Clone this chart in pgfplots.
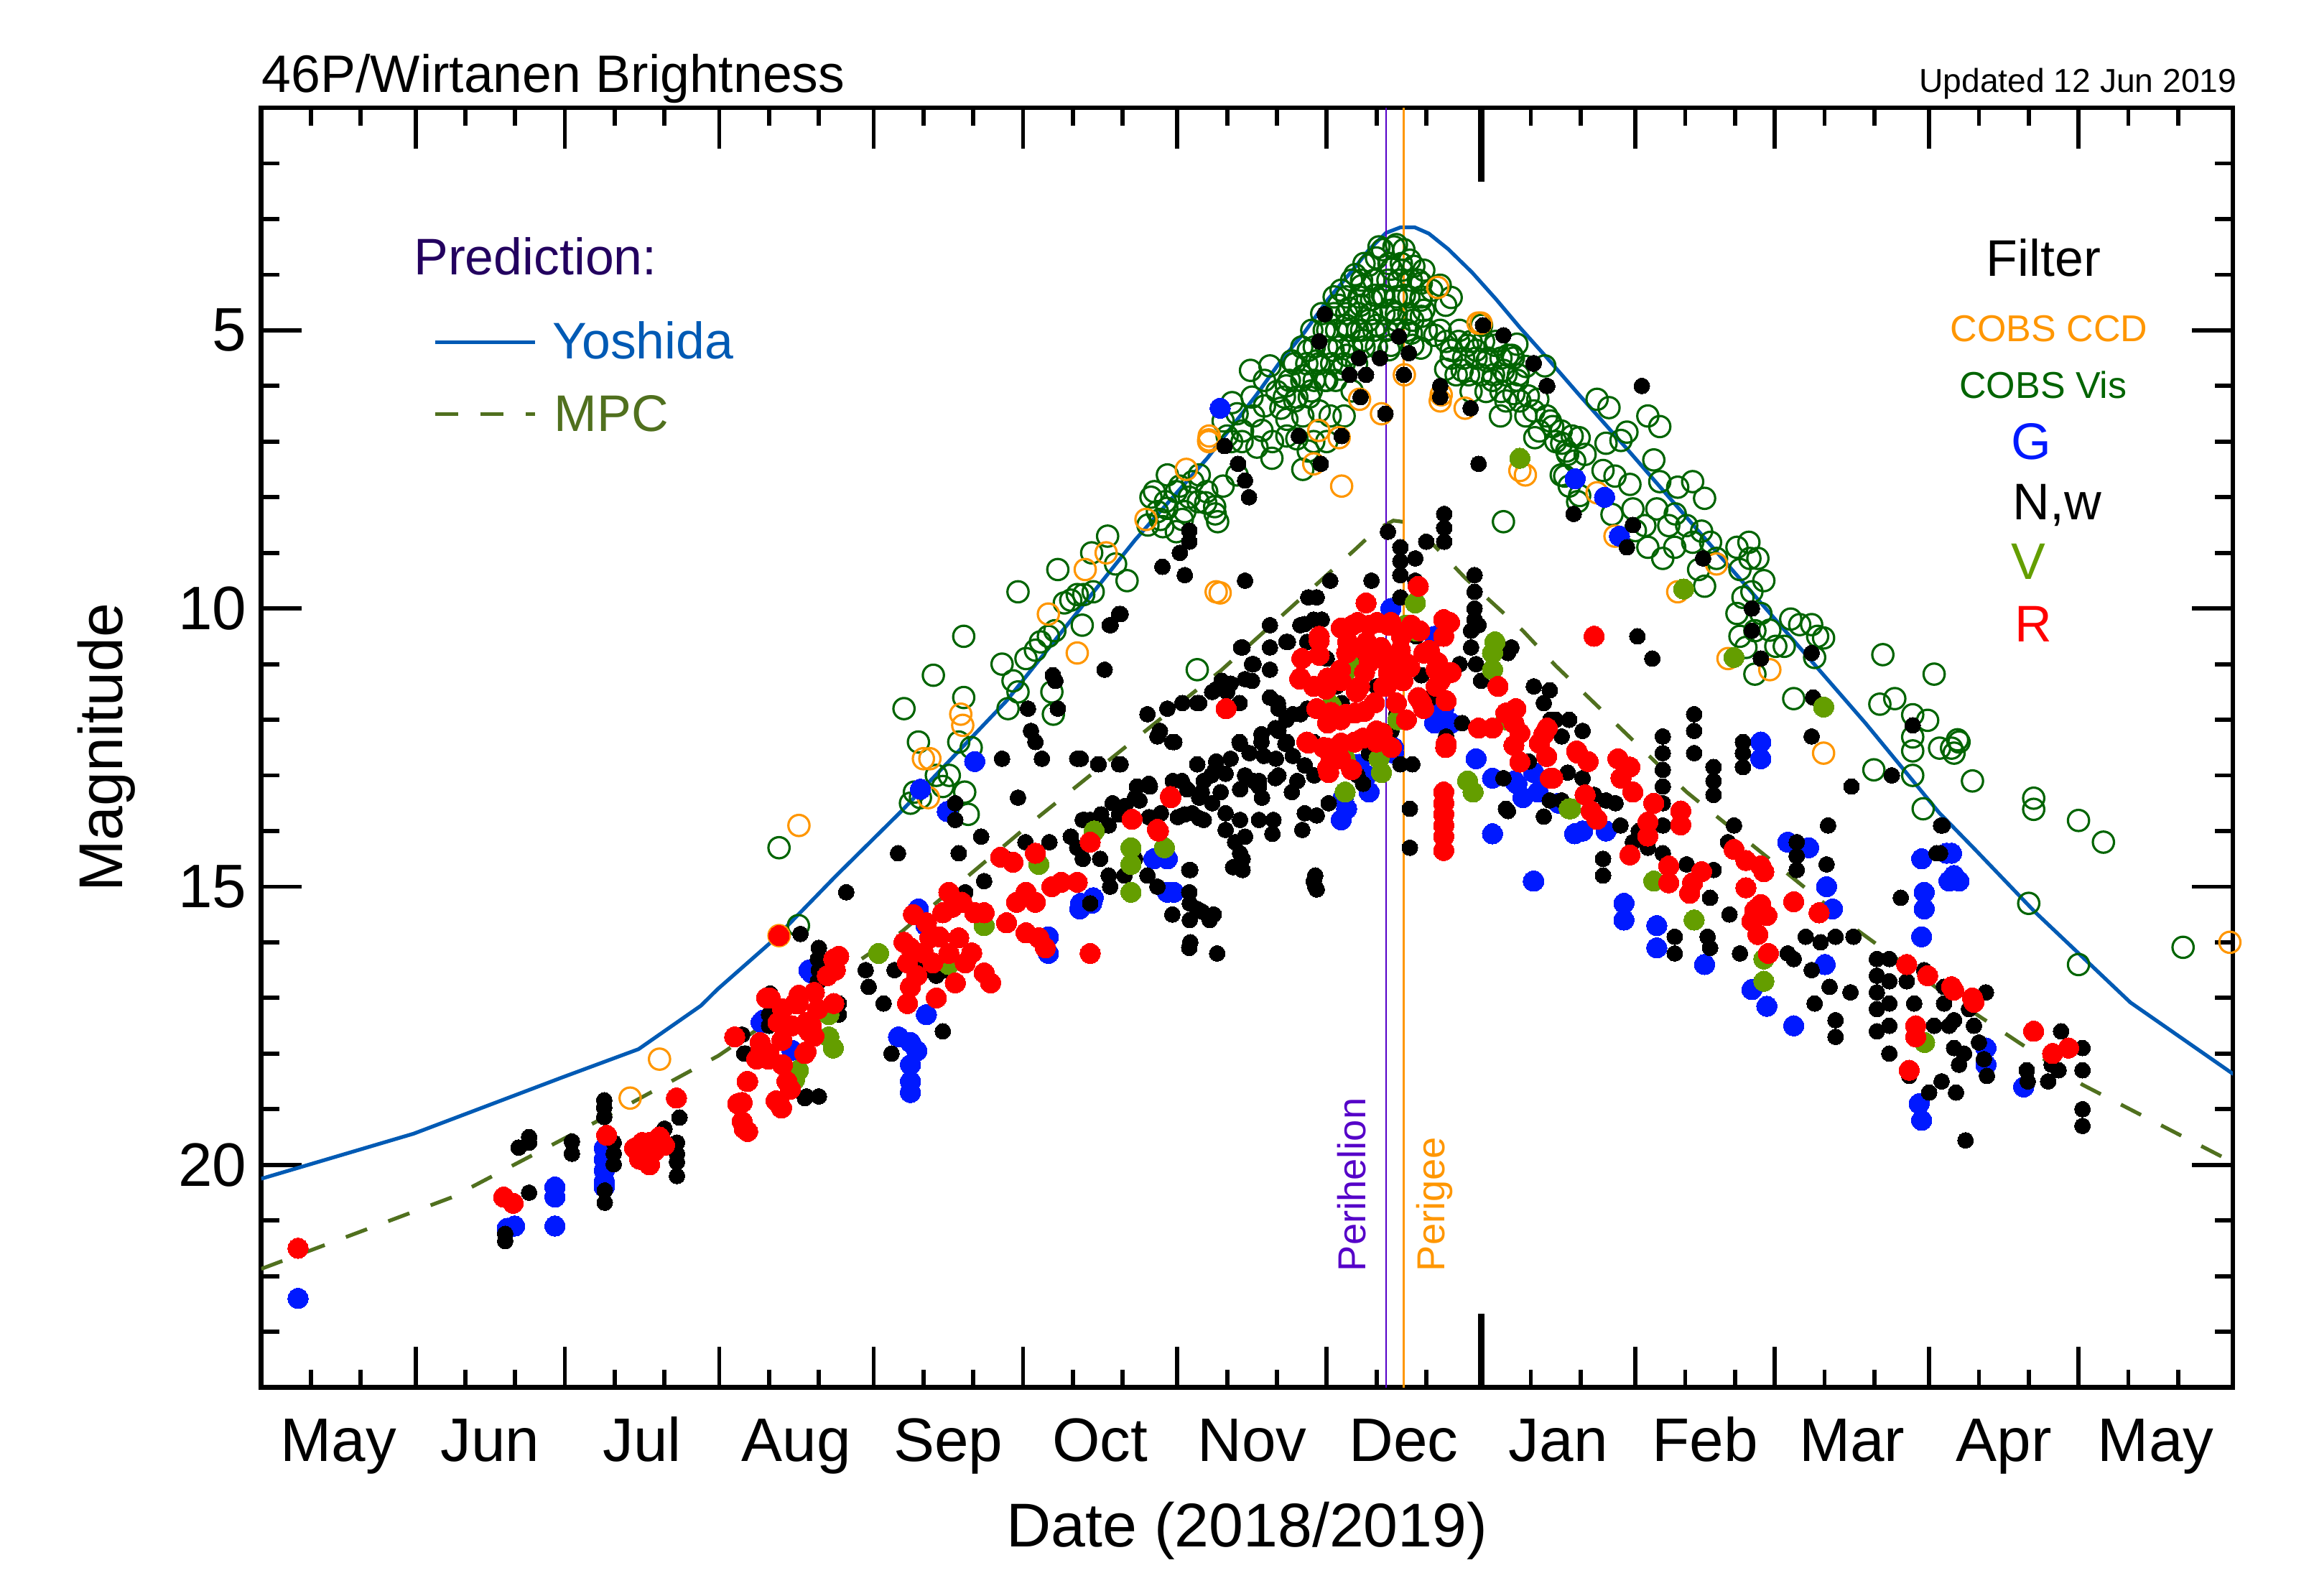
\documentclass[border=0pt]{standalone}
\usepackage{fontspec}
\setmainfont{Liberation Sans}
\usepackage{pgfplots}
\pgfplotsset{compat=1.18}
\definecolor{cobsvis}{RGB}{0,100,0}
\definecolor{cobsccd}{RGB}{255,150,0}
\definecolor{gblue}{RGB}{0,25,255}
\definecolor{vgreen}{RGB}{100,158,0}
\definecolor{rred}{RGB}{255,0,0}
\definecolor{yoshida}{RGB}{0,90,180}
\definecolor{mpc}{RGB}{80,112,30}
\definecolor{predtext}{RGB}{35,0,95}
\definecolor{perih}{RGB}{85,0,200}
\definecolor{perig}{RGB}{255,150,0}
\begin{document}
\begin{tikzpicture}
\path[use as bounding box] (-2.2125cm,-1.7625cm) rectangle (17.3875cm,11.75cm);
\begin{axis}[
  at={(0,0)}, anchor=south west,
  scale only axis, width=16.7cm, height=10.8375cm,
  xmin=0, xmax=396, ymin=1, ymax=24, y dir=reverse,
  axis line style={line width=1.15pt},
  tick style={black, line width=1pt},
  major tick length=9.8pt, minor tick length=4.3pt,
  xtick={0,31,61,92,123,153,184,214,245,276,304,335,365,396},
  xticklabels={},
  minor xtick={10,20,41,51,71,81,102,112,133,143,163,173,194,204,224,234,255,265,286,296,314,324,345,355,375,385},
  extra x ticks={15.5,46,76.5,107.5,138,168.5,199,229.5,260.5,290,319.5,350,380.5},
  extra x tick labels={May,Jun,Jul,Aug,Sep,Oct,Nov,Dec,Jan,Feb,Mar,Apr,May},
  extra x tick style={major tick length=0pt, tick style={draw=none}},
  xticklabel style={anchor=base, yshift=-17.8pt},
  ytick={5,10,15,20},
  minor ytick={2,3,4,6,7,8,9,11,12,13,14,16,17,18,19,21,22,23},
  tick label style={font=\fontsize{14.8}{17}\selectfont},
  /pgf/number format/assume math mode=true,
  xlabel={Date (2018/2019)}, ylabel={Magnitude},
  every axis x label/.style={at={(axis description cs:0.5,-0.1246)}, anchor=base, font=\fontsize{14.9}{17}\selectfont},
  every axis y label/.style={at={(axis description cs:-0.0786,0.5)}, rotate=90, anchor=center, font=\fontsize{14.9}{17}\selectfont},
  clip=true,
]
% ---- predictions
\addplot[yoshida, line width=0.9pt, no marks] table[row sep=\\]{x y\\
0 20.25\\ 30.6 19.44\\ 60.4 18.43\\ 75.8 17.92\\ 88.3 17.14\\ 91.7 16.84\\ 103 15.95\\ 115.4 14.81\\ 128.5 13.65\\ 149.7 11.66\\ 175.5 8.77\\ 190 7.3\\ 199.9 6.16\\ 204.7 5.56\\ 209.5 5.04\\ 214.3 4.44\\ 219.2 3.92\\ 222.5 3.55\\ 225.9 3.25\\ 228.8 3.15\\ 231.7 3.15\\ 234.5 3.26\\ 238.4 3.54\\ 243.2 3.96\\ 248 4.44\\ 252.8 4.95\\ 258 5.47\\ 264.9 6.18\\ 274.3 7.13\\ 298.3 9.60\\ 322.2 12.06\\ 337 13.67\\ 344.2 14.33\\ 356.2 15.45\\ 375.4 17.08\\ 396.1 18.37\\};
\addplot[mpc, line width=0.9pt, no marks, dash pattern=on 5.45pt off 5.45pt] table[row sep=\\]{x y\\
0 21.87\\ 38.4 20.58\\ 70.8 19.06\\ 91.8 18.04\\ 128.5 15.82\\ 156.2 13.74\\ 178.3 12.15\\ 192.7 11.12\\ 200.4 10.5\\ 219.7 8.94\\ 224 8.58\\ 227.4 8.42\\ 230 8.45\\ 234 8.72\\ 241.8 9.45\\ 253.4 10.4\\ 260 11.03\\ 286.3 13.30\\ 321 15.81\\ 337 16.85\\ 365.8 18.56\\ 394.6 19.89\\ 396 19.95\\};
% ---- COBS Vis
\addplot[only marks, cobsvis, mark=o, mark size=2.55pt, mark options={fill=none, line width=0.55pt}] table[row sep=\\]{x y\\
104 14.3\\ 107.9 15.7\\ 129.1 11.8\\ 135 11.2\\ 141.1 10.5\\ 132 12.4\\ 141.1 11.6\\ 140.1 12.4\\ 130.4 13.5\\ 132.4 13.4\\ 131.2 13.3\\ 135.6 13.0\\ 138.2 13.0\\ 136.9 13.2\\ 142.6 12.5\\ 141.3 13.3\\ 142 13.7\\ 148.8 11.0\\ 151 11.3\\ 152 11.5\\ 150 11.8\\ 153.6 10.9\\ 155.5 10.75\\ 156.5 10.6\\ 158.1 10.5\\ 159.4 10.4\\ 158.8 11.5\\ 159.1 11.9\\ 160 9.3\\ 152 9.7\\ 161.3 9.9\\ 162.6 9.85\\ 163.9 9.75\\ 165.2 9.75\\ 167.1 9.7\\ 164.9 10.3\\ 166.8 9.0\\ 170 8.7\\ 171.6 9.2\\ 173.9 9.5\\ 178.7 8.0\\ 182 7.6\\ 178.1 8.5\\ 184.5 7.8\\ 186.4 8.0\\ 188.4 7.6\\ 189.7 8.1\\ 191.6 8.3\\ 181.9 8.2\\ 185 8.4\\ 180.6 8.4\\ 188 11.1\\
179.4 7.9\\ 181.6 8.08\\ 183.8 7.9\\ 185.5 8.26\\ 187.1 7.72\\ 188.2 8.08\\ 189.9 7.9\\ 191.5 8.17\\ 192.1 8.44\\ 181.1 8.53\\ 183.8 8.62\\ 180 8.26\\ 193.2 7.8\\ 196 7.6\\ 194.9 7.0\\ 193.2 6.63\\ 197.1 6.81\\ 199.3 6.54\\ 198.7 5.72\\ 202.6 5.64\\ 203.1 7.0\\ 201.5 6.36\\ 204.8 6.4\\ 205.9 6.0\\ 207.6 6.27\\ 207 5.55\\ 209.2 5.82\\ 209.2 6.54\\ 210.9 6.09\\ 211.4 7.0\\ 212 5.55\\ 212.5 6.45\\ 213.6 5.9\\ 210.3 5.36\\ 214.2 5.0\\ 215.3 5.36\\ 216.4 4.55\\ 216.9 4.28\\ 218 4.91\\ 218 5.45\\ 219.1 6.09\\ 217.5 6.54\\ 219.7 4.0\\ 220.8 4.55\\ 221.3 5.18\\ 222.5 3.83\\ 223.6 4.37\\ 224.1 4.91\\ 225.2 3.55\\ 226.3 4.1\\ 226.9 4.64\\ 226.9 5.27\\ 228 3.46\\ 229.1 3.92\\ 229.6 4.37\\ 230.7 3.74\\ 231.3 4.82\\ 232.4 4.1\\ 232.9 4.46\\ 233.5 3.92\\ 234 5.0\\ 235.1 4.28\\ 236.8 4.19\\ 239 4.41\\ 232.9 5.32\\ 230.2 5.0\\ 222.5 4.82\\ 220.2 5.0\\ 215.8 5.9\\ 214.7 6.54\\ 216.9 5.7\\ 225.2 4.37\\ 228 4.82\\ 233.5 4.64\\ 231.3 5.27\\ 236.8 5.0\\ 239 5.36\\ 237.9 5.7\\ 235.7 5.09\\ 210.3 7.17\\ 209.2 7.5\\ 214 7.0\\ 206 6.9\\ 224 3.7\\ 227 3.9\\ 221 4.2\\ 218.5 4.6\\
224.5 3.5\\ 227.5 3.5\\ 229.5 3.55\\ 221.5 3.8\\ 226.5 3.8\\ 229 3.8\\ 231.5 3.85\\ 219 4.1\\ 221 4.1\\ 223.5 4.1\\ 228.5 4.1\\ 231 4.1\\ 233 4.15\\ 215.5 4.4\\ 218 4.4\\ 220.5 4.4\\ 223 4.45\\ 225.5 4.4\\ 228 4.4\\ 230.5 4.4\\ 233 4.4\\ 213 4.7\\ 215.5 4.7\\ 218 4.7\\ 220.5 4.7\\ 223 4.7\\ 225.5 4.7\\ 228 4.7\\ 230.5 4.7\\ 233 4.75\\ 211 5.0\\ 213.5 5.0\\ 216 5.0\\ 218.5 5.0\\ 221 5.0\\ 223.5 5.0\\ 226 5.0\\ 228.5 5.0\\ 231 5.05\\ 209 5.3\\ 211.5 5.3\\ 214 5.3\\ 216.5 5.3\\ 219 5.3\\ 221.5 5.3\\ 224 5.3\\ 226.5 5.35\\ 207.5 5.6\\ 210 5.6\\ 212.5 5.6\\ 215 5.6\\ 217.5 5.6\\ 220 5.6\\ 206.5 5.9\\ 209 5.9\\ 211.5 5.9\\ 214 5.9\\ 205.5 6.2\\ 208 6.2\\ 210.5 6.2\\ 196 6.5\\ 199 6.2\\ 201 6.8\\ 204 6.1\\ 206 6.6\\ 208 6.95\\ 203 7.3\\ 200 7.1\\ 197 7.0\\ 194 6.9\\ 195 6.3\\ 201.5 5.9\\
240.7 5.0\\ 242.3 5.27\\ 241.2 5.72\\ 244 5.36\\ 245.1 4.91\\ 246.2 5.55\\ 247.8 5.27\\ 247.3 5.9\\ 249.5 5.72\\ 251.2 5.45\\ 252.3 5.9\\ 250 6.27\\ 248.9 6.54\\ 252.8 6.27\\ 254.5 6.18\\ 255.6 6.45\\ 257.8 5.64\\ 256.7 6.81\\ 258.9 6.63\\ 260 7.0\\ 261.1 6.81\\ 262.2 7.17\\ 263.3 6.9\\ 261.1 7.6\\ 262.7 7.8\\ 263.8 7.35\\ 264.4 8.08\\ 237.9 4.55\\ 249.5 8.44\\ 238 5.2\\ 240.5 5.2\\ 243 5.2\\ 245.5 5.2\\ 248 5.2\\ 239 5.5\\ 241.5 5.5\\ 244 5.5\\ 246.5 5.5\\ 249 5.5\\ 251.5 5.5\\ 240 5.8\\ 242.5 5.8\\ 245 5.8\\ 247.5 5.8\\ 250 5.8\\ 252.5 5.8\\ 243 6.1\\ 246 6.1\\ 249 6.1\\
250.4 5.45\\ 252.2 5.25\\ 254 5.65\\ 251.6 6.14\\ 254 6.54\\ 256.4 6.24\\ 258.2 6.54\\ 255.8 6.93\\ 259.4 6.73\\ 261.2 7.03\\ 262.4 7.23\\ 264.7 6.93\\ 265.9 7.23\\ 261.8 7.62\\ 264.8 7.97\\ 268.3 6.24\\ 270.7 6.39\\ 274.3 6.83\\ 278.5 6.54\\ 280.9 6.73\\ 270.1 7.03\\ 273.1 6.98\\ 269.5 7.52\\ 271.9 7.62\\ 274.9 7.77\\ 271.3 8.31\\ 279.7 7.33\\ 280.9 7.72\\ 284.5 7.82\\ 287.5 7.72\\ 289.9 8.02\\ 275.5 8.21\\ 277.9 8.51\\ 280.3 8.21\\ 282.7 8.51\\ 278.5 8.9\\ 281.5 9.1\\ 283.9 8.9\\ 286.3 8.51\\ 287.5 8.81\\ 289.3 8.61\\ 291.1 8.81\\ 288.7 9.3\\ 289.9 9.6\\ 292.3 9.1\\ 296.4 8.9\\ 298.8 8.81\\ 300.6 9.1\\ 297 9.3\\ 301.8 9.5\\ 297.6 9.8\\ 299.4 9.7\\ 296.4 10.09\\ 301.2 10.09\\ 297 10.5\\ 298.2 10.7\\ 300 11.18\\ 303 10.39\\ 304.2 10.68\\ 305.9 10.68\\ 307.2 10.19\\ 309 10.29\\ 311.4 10.29\\ 312.6 10.5\\ 313.8 10.53\\ 312 10.88\\ 307.8 11.62\\ 325.7 10.83\\ 336 11.18\\ 325.1 11.72\\ 328.1 11.62\\ 331.7 11.91\\ 334.7 12.01\\ 331.7 12.31\\ 331.7 12.56\\ 337.1 12.51\\ 339.5 12.51\\ 340.7 12.36\\ 323.9 12.9\\ 331.7 13.0\\ 333.8 13.6\\ 343.7 13.1\\ 340 12.6\\ 341 12.4\\ 276 8.6\\ 284 8.3\\ 299 9.1\\ 300 10.4\\
356 13.41\\ 356 13.61\\ 365 13.81\\ 370 14.2\\ 355 15.3\\ 365 16.4\\ 386 16.09\\};
% ---- COBS CCD
\addplot[only marks, cobsccd, mark=o, mark size=2.55pt, mark options={fill=none, line width=0.55pt}] table[row sep=\\]{x y\\
74.1 18.8\\ 80 18.1\\ 108 13.9\\ 133 12.7\\ 134.3 12.7\\ 134 13.4\\ 140.5 11.9\\ 140.9 12.1\\ 158.1 10.1\\ 163.9 10.8\\ 165.5 9.3\\ 169.7 9.0\\ 177.7 8.4\\ 192.6 9.72\\ 185.8 7.5\\ 190.3 7.0\\ 190.4 6.9\\ 191.8 9.7\\ 211.4 7.4\\ 217 7.8\\ 225 6.5\\ 229.6 5.8\\ 236.8 6.27\\ 241.8 6.4\\ 236.3 4.23\\ 245 4.87\\ 253.9 7.6\\ 252.8 7.52\\ 268.3 7.92\\ 271.9 8.7\\ 284.5 9.7\\ 292.3 9.2\\ 294.6 10.9\\ 303 11.1\\ 313.8 12.6\\ 395.4 16.0\\ 104 15.88\\ 220.6 6.24\\ 212.4 6.8\\ 216.5 6.93\\ 237 6.16\\ 244.4 4.87\\ 190.3 6.97\\};
% ---- G
\addplot[only marks, gblue, mark=*, mark size=2.45pt, mark options={line width=0pt}] table[row sep=\\]{x y\\
7.4 22.4\\ 49.4 21.14\\ 50.9 21.1\\ 59 20.4\\ 59 20.58\\ 59 21.1\\ 68.9 19.7\\ 68.9 19.9\\ 68.9 20.1\\ 68.9 20.3\\ 68.9 20.4\\ 100.4 17.44\\ 110 16.5\\ 106.6 17.94\\ 100.8 17.4\\ 110.5 16.55\\ 128 17.7\\ 130.4 17.8\\ 131.7 17.95\\ 130.4 18.2\\ 130.4 18.5\\ 130.4 18.7\\ 133.6 17.3\\ 132.4 13.25\\ 143.3 12.75\\ 137.8 13.65\\ 132 15.4\\ 133.5 15.7\\ 192.6 6.4\\ 158.1 16.2\\ 158.1 15.9\\ 164.6 15.3\\ 167.1 15.2\\ 182 14.5\\ 182 15.1\\ 226.9 10.0\\ 235.7 10.5\\ 235.7 12.06\\ 239 12.06\\ 225.2 12.6\\ 227.4 12.5\\ 218 13.6\\ 216.9 13.8\\ 222.5 13.3\\ 244 12.7\\ 247.3 13.05\\ 251.7 13.1\\ 255.6 12.95\\ 260.6 13.5\\ 263.8 14.05\\ 247.3 14.05\\ 255.6 14.9\\ 183.3 15.1\\ 180.5 14.45\\ 263.9 7.67\\ 269.8 8.0\\ 272.8 8.7\\ 255.5 14.9\\ 301.2 12.4\\ 301.2 12.7\\ 273.7 15.3\\ 273.7 15.6\\ 280.3 15.7\\ 280.3 16.1\\ 289.9 16.4\\ 299.4 16.85\\ 302.4 17.15\\ 307.8 17.5\\ 306.6 14.2\\ 310.8 14.3\\ 314.4 15.0\\ 315.6 15.4\\ 314.1 16.4\\ 333.5 14.5\\ 339.5 14.4\\ 340 14.8\\ 334 15.1\\ 334 15.4\\ 333.5 15.9\\ 333 18.9\\ 333.5 19.2\\ 252.2 13.15\\ 253.4 13.4\\ 256.4 13.3\\ 265.4 14.0\\ 270.1 14.0\\ 338.5 14.4\\ 339 14.9\\ 341 14.9\\ 354 18.6\\ 346.4 18.2\\ 346.4 17.9\\ 217.3 13.4\\ 222 13.0\\ 220.5 12.8\\ 227.4 12.6\\ 179.3 14.5\\ 166.8 15.3\\ 164.4 15.4\\ 237.5 11.8\\};
% ---- N,w
\addplot[only marks, black, mark=*, mark size=1.9pt, mark options={line width=0pt}] table[row sep=\\]{x y\\
49 21.24\\ 49 21.37\\ 51.7 19.69\\ 53.8 19.5\\ 53.8 19.6\\ 53.8 20.5\\ 62.4 19.58\\ 62.4 19.8\\ 68.9 18.84\\ 68.9 18.97\\ 68.9 19.14\\ 70.8 19.6\\ 70.8 19.8\\ 70.8 19.99\\ 69 20.46\\ 69 20.68\\ 81 19.35\\ 83.5 19.6\\ 83.5 19.8\\ 83.5 19.95\\ 84 19.15\\ 83.5 20.2\\
96.6 17.66\\ 97.3 18.0\\ 102.2 16.92\\ 112 16.1\\ 112 16.3\\ 112 16.5\\ 112 16.7\\ 109.5 18.77\\ 112 18.77\\ 108.3 15.85\\ 102 17.3\\ 102 17.5\\ 111.8 16.3\\ 111.8 16.7\\ 116 17.1\\ 116 17.3\\ 97 18.0\\ 109.2 18.8\\
117.5 15.1\\ 121.4 16.5\\ 122 16.8\\ 125 17.1\\ 127.2 16.5\\ 126.6 18.0\\ 127.9 14.4\\ 131.7 16.4\\ 134 16.5\\ 135.6 16.6\\ 137.5 16.5\\ 136.9 17.6\\ 139.4 13.5\\ 139.4 13.8\\ 140.1 14.4\\ 141.4 15.1\\ 144.6 14.1\\ 145.2 14.9\\ 148.8 12.7\\ 149.7 14.5\\ 152 13.4\\ 153.5 14.2\\ 154 11.8\\ 154.6 12.2\\ 155.5 12.4\\ 156.8 12.7\\ 158.3 14.2\\ 159 11.2\\ 159.5 11.3\\ 160 11.8\\ 162.6 14.1\\ 163.9 12.7\\ 165 13.8\\ 165 14.5\\ 166.5 13.8\\ 168.5 14.5\\ 169.4 11.1\\ 170.4 10.3\\ 172.3 10.1\\ 168.1 12.8\\ 172.3 12.8\\ 171 13.5\\ 172.3 13.7\\ 173.4 14.8\\ 175.5 14.5\\ 175.5 13.4\\ 178.5 13.2\\ 180 12.3\\ 183 12.4\\ 186.4 14.7\\ 186.4 15.1\\ 186.4 16.1\\ 188 11.7\\ 188.4 13.4\\ 188 15.4\\ 190.5 15.6\\ 191 11.5\\ 191.6 12.9\\ 178 11.9\\ 182 11.8\\ 185 11.7\\ 194 11.5\\ 199 11.3\\ 180 15.0\\ 183 15.5\\ 192 16.2\\ 178 14.8\\
172.6 10.1\\ 170.6 10.3\\ 196.8 10.7\\ 206.2 10.6\\ 210.1 10.6\\ 209.6 10.28\\ 213 10.2\\ 199 11.0\\ 197.6 11.27\\ 194.7 11.35\\ 191.8 11.45\\ 188.4 11.7\\ 183.4 12.4\\ 164.6 12.7\\ 168.2 12.8\\ 172.6 12.8\\ 202.6 11.6\\ 204.3 11.8\\ 207.2 11.9\\ 210.1 11.8\\ 200.9 12.26\\ 204.3 12.2\\ 205.7 12.43\\ 196.6 12.43\\ 188 12.8\\ 191.8 12.75\\ 194.7 12.7\\ 198.5 12.6\\ 201.4 12.65\\ 203.8 12.7\\ 207.2 12.65\\ 209.6 12.82\\ 190.8 13.0\\ 193.7 12.97\\ 197.6 13.0\\ 200.4 13.1\\ 204.3 13.0\\ 208.1 13.1\\ 211.5 13.0\\ 175.9 13.2\\ 178.3 13.15\\ 183.1 13.1\\ 186 13.25\\ 188.9 13.3\\ 192.7 13.3\\ 196.6 13.25\\ 200.4 13.2\\ 165.3 13.8\\ 168.7 13.7\\ 170.2 13.9\\ 173.5 13.55\\ 176.4 13.45\\ 178.3 13.75\\ 180.7 13.68\\ 184.1 13.75\\ 185.5 13.7\\ 188.4 13.77\\ 187 13.68\\ 193.7 13.68\\ 196.6 13.8\\ 200.4 13.8\\ 203.3 13.8\\ 193.7 13.98\\ 197.6 14.1\\ 195.6 14.2\\ 209.6 13.68\\ 209.1 13.98\\ 212 13.72\\ 214.4 13.5\\ 196.6 14.4\\ 197.1 14.7\\ 195.2 14.65\\ 186.5 15.3\\ 189 15.45\\ 191.3 15.5\\ 186.5 15.6\\ 170.2 14.8\\ 170.5 15.0\\ 211.7 14.8\\ 211.7 15.0\\ 166.8 14.2\\ 163.9 14.3\\ 166.5 15.3\\ 230.7 13.6\\ 230.7 14.3\\ 228.8 12.8\\ 231.2 12.8\\
213.6 4.71\\ 212.5 5.2\\ 220.5 5.5\\ 224.7 5.5\\ 218.6 5.8\\ 221.9 5.8\\ 228.5 5.11\\ 230.5 5.41\\ 229.5 5.8\\ 225.8 6.5\\ 220.8 6.2\\ 217 6.9\\ 208.4 6.9\\ 212.8 7.4\\ 193.5 7.08\\ 196.2 7.4\\ 197.6 7.7\\ 198.4 8.0\\ 245.4 4.91\\ 249.5 5.09\\ 255.6 5.59\\ 258.3 6.0\\ 236.8 6.0\\ 236.8 6.2\\ 242.9 6.4\\ 244.5 7.4\\ 263.6 8.3\\ 186.4 8.6\\ 186.4 8.8\\ 184.5 9.0\\ 181 9.25\\ 185.5 9.4\\ 197.6 9.5\\ 214.7 9.5\\ 223 9.5\\ 237.6 8.3\\ 237.6 8.55\\ 237.6 8.8\\ 226.3 8.62\\ 228.8 8.9\\ 228.8 9.15\\ 228.8 9.4\\ 228.8 9.8\\ 231.8 9.1\\ 231.8 9.5\\ 234 8.8\\ 243.7 9.4\\ 243.7 9.7\\ 243.7 10.0\\ 243.7 10.2\\ 244.5 10.3\\ 202.6 10.3\\ 202.6 10.7\\ 202.6 11.1\\ 205.9 10.6\\ 210.3 9.8\\ 212 9.8\\ 208.7 10.3\\ 211.4 10.2\\ 197.1 10.7\\ 199.3 11.0\\ 196.5 11.7\\ 192.9 11.3\\ 180.5 12.2\\ 196.5 12.4\\ 200.9 12.4\\ 203.7 12.15\\ 205.9 12.0\\ 208.7 11.9\\ 204.2 11.7\\ 211.4 12.4\\ 184.9 13.1\\ 189.3 13.1\\ 199.3 13.1\\ 203.7 13.05\\ 189.3 13.8\\ 203.1 14.05\\ 186.6 14.7\\ 197.1 14.5\\ 211.4 14.9\\ 212 15.05\\ 186.6 16.0\\ 249.5 13.05\\ 250 13.6\\ 241.2 12.06\\ 227 12.2\\ 228 11.9\\ 222.5 12.6\\ 220.2 13.0\\ 221.3 13.15\\ 243 10.4\\ 243 10.7\\ 244 11.0\\ 245 11.3\\ 240.7 11.0\\ 251.1 10.7\\ 255.6 11.4\\ 258.9 12.0\\ 262.7 12.0\\ 220 11.0\\ 224 11.4\\ 217 11.7\\ 232 10.5\\ 233 11.2\\ 235 11.6\\ 238 12.3\\ 214 10.9\\ 216 11.4\\ 206 12.4\\ 201 13.4\\ 191 13.5\\ 207 13.3\\
255.5 5.6\\ 258.2 6.0\\ 277.3 6.0\\ 263.6 8.3\\ 275.5 8.5\\ 274.3 8.9\\ 289.6 9.1\\ 299.4 10.0\\ 299.4 10.4\\ 301.2 10.9\\ 311.4 10.8\\ 276.4 10.5\\ 279.4 10.9\\ 311.7 11.6\\ 311.4 12.3\\ 319.4 13.2\\ 327.5 13.0\\ 331.7 12.1\\ 337.4 13.9\\ 336.5 14.4\\ 329.3 15.2\\ 314.7 13.9\\ 314.4 14.6\\ 281.5 12.3\\ 287.8 11.9\\ 287.8 12.2\\ 287.8 12.6\\ 291.7 12.85\\ 291.7 13.1\\ 291.7 13.35\\ 297.6 12.4\\ 297.6 12.6\\ 297.6 12.85\\ 281.5 12.6\\ 281.5 12.9\\ 281.5 13.2\\ 281.5 13.5\\ 281.5 13.9\\ 257.6 11.7\\ 260 12.0\\ 261.2 12.3\\ 265.4 12.2\\ 250.4 10.8\\ 308.4 14.2\\ 308.4 14.45\\ 308.4 14.7\\ 269.5 14.5\\ 269.5 14.8\\ 283.9 15.9\\ 283.9 16.2\\ 290.5 15.9\\ 291 16.1\\ 295.8 13.9\\ 294.6 14.2\\ 289 14.7\\ 291 15.2\\ 291.7 14.7\\ 294.9 15.5\\ 297 16.2\\ 306.6 16.2\\ 307.8 16.3\\ 311.4 16.5\\ 312 17.1\\ 315 16.8\\ 316.2 17.4\\ 316.2 17.7\\ 319.2 16.9\\ 319.8 15.9\\ 316.2 15.9\\ 310.2 15.9\\ 313.2 16.0\\ 324.5 16.3\\ 324.5 16.6\\ 324.5 16.9\\ 324.5 17.2\\ 324.5 17.6\\ 327 16.3\\ 327 16.7\\ 327 17.1\\ 327 17.5\\ 327 18.0\\ 330.5 16.7\\ 332 17.1\\ 334 16.5\\ 336 17.5\\ 338 16.8\\ 340 17.4\\ 342 18.0\\ 343.7 17.0\\ 331 18.4\\ 335 18.7\\ 258.8 11.47\\ 262.4 12.95\\ 265.4 13.05\\ 267.7 13.35\\ 270.1 13.45\\ 272 13.5\\ 273 13.9\\ 276.7 14.0\\ 275.5 14.2\\ 278.5 14.3\\ 281.5 14.4\\ 286.3 14.6\\ 258.8 13.45\\ 257.6 13.74\\ 250.4 13.64\\ 261.2 13.45\\ 254.6 12.75\\
337.7 13.9\\ 337.2 14.4\\ 346.4 16.9\\ 343 17.2\\ 344 17.5\\ 345 17.8\\ 346 18.1\\ 346.6 18.4\\ 338 17.1\\ 339 17.5\\ 340 17.9\\ 341 18.2\\ 337.5 18.5\\ 342.3 19.56\\ 340.4 18.7\\ 354.6 18.3\\ 354.8 18.5\\ 358.9 18.5\\ 361.5 17.6\\ 359.6 18.2\\ 361 18.3\\ 365.8 17.9\\ 365.8 18.3\\ 365.8 19.0\\ 365.8 19.3\\};
% ---- V
\addplot[only marks, vgreen, mark=*, mark size=2.45pt, mark options={line width=0pt}] table[row sep=\\]{x y\\
107.1 18.47\\ 114 17.3\\ 114 17.7\\ 107.9 18.3\\ 114.9 17.9\\ 124 16.2\\ 156.2 14.6\\ 138.1 16.4\\ 145.2 15.7\\ 167.3 14.0\\ 174.7 14.3\\ 174.7 14.6\\ 174.7 15.1\\ 181.4 14.3\\ 229.8 10.3\\ 231.8 9.9\\ 231.8 10.4\\ 217.7 11.14\\ 218.6 11.0\\ 214.9 11.74\\ 228.3 12.0\\ 224.5 12.7\\ 225 12.95\\ 217.7 12.7\\ 217.7 13.3\\ 247.3 10.8\\ 247.8 10.6\\ 247.3 11.1\\ 242.3 13.1\\ 243.4 13.3\\ 252.8 7.3\\ 250 12.0\\ 262.7 13.6\\ 285.7 9.65\\ 295.8 10.88\\ 313.8 11.77\\ 263 13.6\\ 279.7 14.9\\ 287.8 15.6\\ 301.8 16.3\\ 301.8 16.7\\ 334.1 17.8\\};
% ---- R
\addplot[only marks, rred, mark=*, mark size=2.45pt, mark options={line width=0pt}] table[row sep=\\]{x y\\
7.4 21.5\\ 48.7 20.58\\ 50.6 20.69\\ 69.4 19.47\\ 75 19.7\\ 76 19.9\\ 77 19.8\\ 78 19.6\\ 79 19.75\\ 80 19.5\\ 81 19.65\\ 78 20.0\\ 76.5 19.6\\ 83.4 18.8\\
104 15.88\\ 95.1 17.7\\ 97.7 18.5\\ 96.6 18.88\\ 96.6 19.22\\ 97.7 19.4\\ 102.2 17.0\\ 100.4 17.9\\ 101.9 18.1\\ 104 18.88\\ 104.5 18.98\\ 106.3 18.64\\ 107.2 17.1\\ 109.5 17.44\\ 110 17.6\\ 109.4 17.97\\ 111 17.69\\ 115 17.1\\ 116 16.25\\ 108 16.95\\ 104.6 17.76\\ 103.8 17.44\\ 101.5 17.0\\ 104.7 17.2\\ 107.9 17.1\\ 111.1 16.9\\ 113.7 16.6\\ 115 16.3\\ 115.3 16.5\\ 100.2 17.8\\ 99.5 18.1\\ 102 18.0\\ 104.7 18.2\\ 106.6 17.5\\ 97.6 18.5\\ 95.7 18.9\\ 97 19.35\\ 103.4 18.85\\ 105.6 18.5\\ 109.2 18.0\\ 110.5 17.5\\ 111.8 17.2\\
130.4 16.1\\ 129.8 16.37\\ 130.4 16.8\\ 129.8 17.1\\ 133.6 15.65\\ 134.3 15.92\\ 133 16.19\\ 134.9 16.37\\ 135.6 17.0\\ 138.1 15.1\\ 138.8 15.37\\ 136.9 15.47\\ 140.7 15.28\\ 143.3 15.47\\ 145.2 15.47\\ 140.1 15.92\\ 141.4 16.37\\ 139.4 16.73\\ 142.7 16.19\\ 145.2 16.55\\ 146.5 16.73\\ 148.5 14.47\\ 151 14.56\\ 153.6 15.1\\ 155.5 15.28\\ 151.7 15.28\\ 149.7 15.65\\ 153.6 15.83\\ 156.2 15.92\\ 157.5 16.1\\ 158.8 15.0\\ 160.7 14.92\\ 163.9 14.92\\ 166.5 16.2\\ 166.5 14.2\\ 174.9 13.79\\ 180 13.97\\ 182.6 13.38\\ 155.5 14.4\\ 131 15.5\\ 131.7 16.6\\ 136.2 15.9\\ 129.1 16.0\\ 138.1 16.2\\
221.9 9.9\\ 232.4 9.6\\ 238.7 10.25\\ 208.7 11.25\\ 212.5 10.5\\ 216.9 10.35\\ 220.2 10.25\\ 224.1 10.25\\ 226.9 10.25\\ 211.4 11.4\\ 214.2 11.25\\ 216.9 11.3\\ 222.5 10.97\\ 225.2 10.9\\ 228 10.97\\ 230.7 11.06\\ 233.5 10.8\\ 214.2 12.06\\ 216.9 11.97\\ 219.7 11.88\\ 223.6 11.7\\ 228 11.7\\ 232.4 11.6\\ 210.3 12.42\\ 214.2 12.51\\ 216.9 12.42\\ 221.3 12.33\\ 225.2 12.24\\ 214.2 12.87\\ 233.5 11.8\\ 236.8 11.3\\ 239 11.15\\ 236.3 10.97\\ 237.9 12.5\\ 237.5 13.3\\ 237.5 13.5\\ 237.5 13.7\\ 237.5 13.9\\ 237.5 14.1\\ 237.5 14.35\\ 244.5 12.15\\ 248.4 11.4\\ 247.3 12.15\\ 252.8 12.24\\ 256.7 12.42\\ 250 11.88\\ 258.3 12.15\\ 264.4 12.6\\ 258.9 13.05\\ 182.7 13.4\\ 180.2 14.0\\ 193.8 11.8\\ 218 10.8\\ 220 11.5\\ 226 11.4\\ 230 12.0\\ 212 11.8\\ 209 10.9\\ 227 12.5\\ 219 12.9\\ 222 10.6\\ 229 10.5\\ 231 10.3\\
212.5 10.58\\ 212.5 10.84\\ 208.6 11.27\\ 213.9 11.45\\ 219.2 10.3\\ 222.6 10.3\\ 226.4 10.3\\ 218.2 10.6\\ 221.6 10.75\\ 224.9 10.7\\ 228.8 10.75\\ 232.7 10.4\\ 234.6 10.75\\ 237.5 10.2\\ 237.5 10.5\\ 216.8 11.1\\ 221.6 11.15\\ 226.4 11.15\\ 230.3 11.0\\ 220.6 11.4\\ 225.4 11.4\\ 229.3 11.3\\ 233.1 11.7\\ 236 11.1\\ 236 11.4\\ 238 11.66\\ 214.9 11.87\\ 217.8 11.9\\ 221.6 11.85\\ 224 12.2\\ 225 12.3\\ 216.8 12.0\\ 210 12.4\\ 213.4 12.5\\ 214.9 12.7\\ 214.4 12.95\\ 216.8 12.7\\ 219.6 12.4\\ 224 12.4\\ 238 12.43\\
267.7 10.5\\ 252 11.8\\ 251.6 12.06\\ 251.6 12.46\\ 252.8 12.76\\ 257.6 12.26\\ 258.2 12.66\\ 259.4 13.05\\ 264.2 12.56\\ 266.5 12.75\\ 265.9 13.35\\ 267.1 13.64\\ 268.3 13.79\\ 272.5 12.7\\ 274.9 12.85\\ 273.1 13.05\\ 275.5 13.3\\ 274.9 14.43\\ 279.7 13.5\\ 278.5 13.84\\ 278.5 14.09\\ 282.7 14.63\\ 282.7 14.93\\ 285.1 13.64\\ 285.1 13.89\\ 287.5 14.93\\ 289.3 14.73\\ 286.9 15.12\\ 295.8 14.33\\ 298.2 14.53\\ 301.2 14.63\\ 301.8 14.73\\ 298.2 15.02\\ 300 15.42\\ 299.4 15.62\\ 301.2 15.32\\ 300.6 15.86\\ 302.4 15.52\\ 302.7 16.2\\ 307.8 15.27\\ 312.9 15.47\\ 330.5 16.4\\ 334.7 16.6\\ 339.5 16.8\\ 343.7 17.0\\ 332.3 17.5\\ 332.3 17.7\\ 331 18.3\\
339.9 16.86\\ 344 17.08\\ 356 17.6\\ 359.8 18.0\\ 363 17.9\\};
% ---- perihelion / perigee
\draw[perih, line width=0.4pt] (axis cs:225.9,1) -- (axis cs:225.9,24);
\draw[perig, line width=0.55pt] (axis cs:229.5,1) -- (axis cs:229.5,24);
\node[rotate=90, anchor=base west, inner sep=0pt, text=perih, font=\fontsize{9.4}{11}\selectfont] at (axis cs:221.8,21.93) {Perihelion};
\node[rotate=90, anchor=base west, inner sep=0pt, text=perig, font=\fontsize{9.4}{11}\selectfont] at (axis cs:237.7,21.93) {Perigee};
% ---- year tick
\draw[line width=1.6pt] (axis cs:245,24) -- ++(0pt,17.8pt);
\draw[line width=1.6pt] (axis cs:245,1) -- ++(0pt,-17.8pt);
% ---- prediction legend
\node[anchor=base west, inner sep=0pt, text=predtext, font=\fontsize{12.4}{14}\selectfont] at (axis cs:30.5,4.006) {Prediction:};
\draw[yoshida, line width=0.9pt] (axis cs:35.0,5.22) -- (axis cs:55.0,5.22);
\node[anchor=base west, inner sep=0pt, text=yoshida, font=\fontsize{12.4}{14}\selectfont] at (axis cs:58.3,5.51) {Yoshida};
\draw[mpc, line width=0.9pt, dash pattern=on 5.45pt off 5.45pt] (axis cs:35.0,6.51) -- (axis cs:55.0,6.51);
\node[anchor=base west, inner sep=0pt, text=mpc, font=\fontsize{12.4}{14}\selectfont] at (axis cs:58.7,6.81) {MPC};
% ---- filter legend
\node[anchor=base, inner sep=0pt, font=\fontsize{12.4}{14}\selectfont] at (axis cs:358.0,4.03) {Filter};
\node[anchor=base, inner sep=0pt, text=cobsccd, font=\fontsize{9}{11}\selectfont] at (axis cs:359.1,5.20) {COBS CCD};
\node[anchor=base, inner sep=0pt, text=cobsvis, font=\fontsize{9}{11}\selectfont] at (axis cs:357.9,6.22) {COBS Vis};
\node[anchor=base west, inner sep=0pt, text=gblue, font=\fontsize{12.4}{14}\selectfont] at (axis cs:351.4,7.32) {G};
\node[anchor=base west, inner sep=0pt, text=black, font=\fontsize{12.4}{14}\selectfont] at (axis cs:351.6,8.41) {N,w};
\node[anchor=base west, inner sep=0pt, text=vgreen, font=\fontsize{12.4}{14}\selectfont] at (axis cs:351.3,9.48) {V};
\node[anchor=base west, inner sep=0pt, text=rred, font=\fontsize{12.4}{14}\selectfont] at (axis cs:352.0,10.60) {R};
\end{axis}
\node[anchor=base west, inner sep=0pt, font=\fontsize{12.7}{15}\selectfont] at (0,10.97cm) {46P/Wirtanen Brightness};
\node[anchor=base east, inner sep=0pt, font=\fontsize{8}{10}\selectfont] at (16.74cm,10.97cm) {Updated 12 Jun 2019};
\end{tikzpicture}
\end{document}
